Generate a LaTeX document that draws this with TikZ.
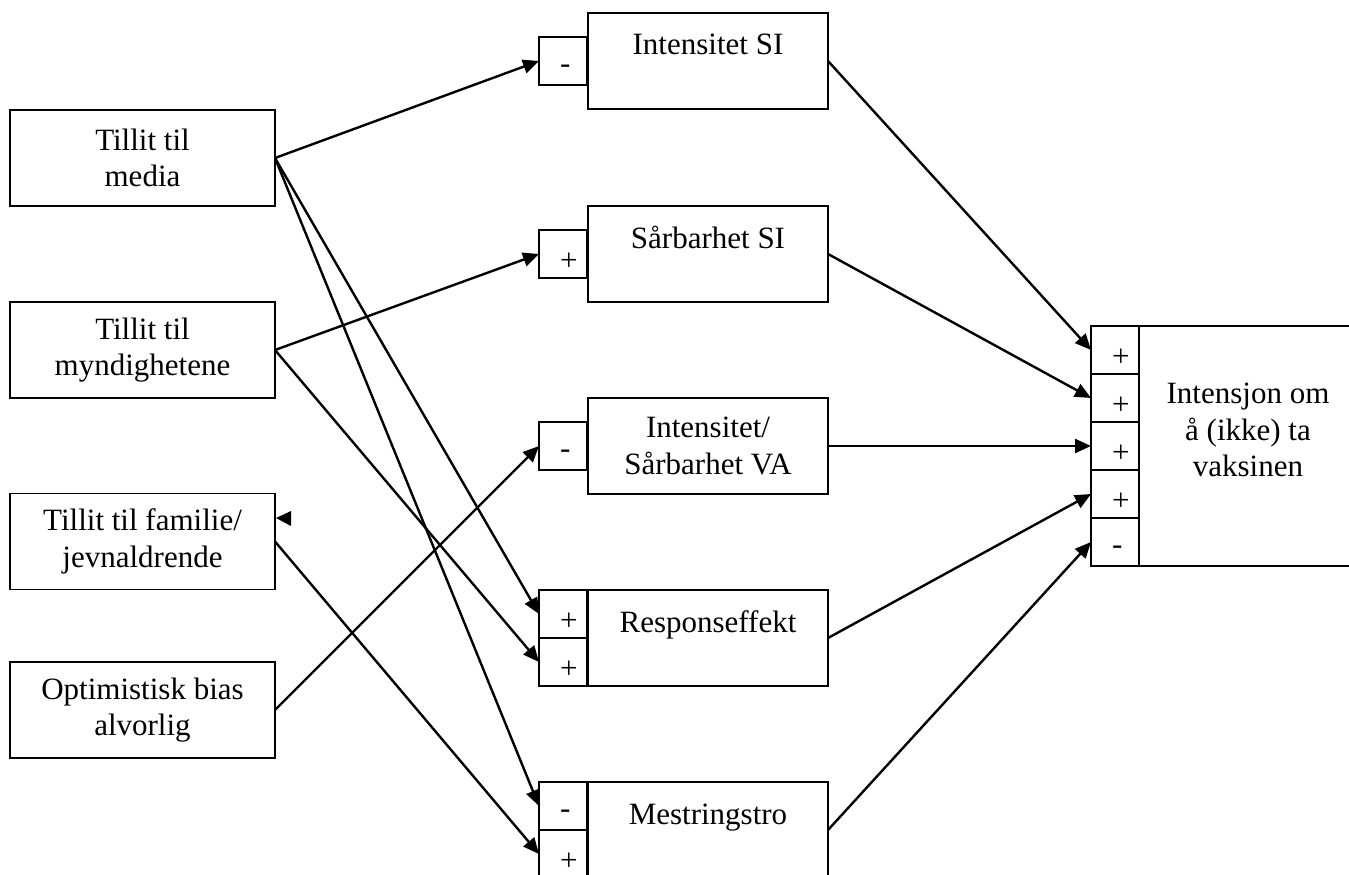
\documentclass[tikz,border=0pt]{standalone}
\usepackage{fontspec}
\setmainfont{Liberation Serif}
\usetikzlibrary{arrows.meta}
\begin{document}
\begin{tikzpicture}[x=1pt,y=-1pt,
  box/.style={draw, line width=1.8pt, rectangle, inner sep=0pt, outer sep=0pt},
  lbox/.style={box, minimum width=265pt, minimum height=96pt, align=center, font=\fontsize{31}{36.5}\selectfont},
  mbox/.style={box, minimum width=240pt, minimum height=96pt},
  sbox/.style={box, minimum width=48pt, minimum height=48pt},
  txt/.style={inner sep=0pt, align=center, font=\fontsize{31}{36.5}\selectfont},
  sign/.style={inner sep=0pt, anchor=west, font=\fontsize{31}{36.5}\selectfont},
  arr/.style={line width=2.4pt, -{Triangle[length=16pt,width=14pt]}}
]
\useasboundingbox (0,0) rectangle (1349,875);
\fill[white] (0,0) rectangle (1349,875);

% left boxes
\node[lbox] (media) at (142.5,158) {Tillit til\\media};
\node[lbox] (mynd) at (142.5,350) {Tillit til\\myndighetene};
\node[lbox] (fam) at (142.5,541.5) {Tillit til familie/\\jevnaldrende};
\node[lbox] (opt) at (142.5,710) {Optimistisk bias\\alvorlig};

% middle boxes
\node[mbox] (isi) at (708,61) {};
\node[txt, anchor=base] (isiT) at ([yshift=-42pt]isi.north) {Intensitet SI};
\node[sbox] (isiS) at (563,61) {};
\node[sign] (isiP) at ([xshift=21pt,yshift=-8pt]isiS.west) {-};

\node[mbox] (ssi) at (708,254) {};
\node[txt, anchor=base] (ssiT) at ([yshift=-42pt]ssi.north) {Sårbarhet SI};
\node[sbox] (ssiS) at (563,254) {};
\node[sign] (ssiP) at ([xshift=21pt,yshift=-8pt]ssiS.west) {+};

\node[mbox] (va) at (708,446) {};
\node[txt] (vaT) at (va.center) {Intensitet/\\Sårbarhet VA};
\node[sbox] (vaS) at (563,446) {};
\node[sign] (vaP) at ([xshift=21pt,yshift=-8pt]vaS.west) {-};

\node[mbox] (resp) at (708,638) {};
\node[txt, anchor=base] (respT) at ([yshift=-42pt]resp.north) {Responseffekt};
\node[sbox] (resp1) at (563,614) {};
\node[sign] (resp1P) at ([xshift=21pt,yshift=-8pt]resp1.west) {+};
\node[sbox] (resp2) at (563,662) {};
\node[sign] (resp2P) at ([xshift=21pt,yshift=-8pt]resp2.west) {+};

\node[mbox] (mest) at (708,830) {};
\node[txt, anchor=base] (mestT) at ([yshift=-42pt]mest.north) {Mestringstro};
\node[sbox] (mest1) at (563,806) {};
\node[sign] (mest1P) at ([xshift=21pt,yshift=-8pt]mest1.west) {-};
\node[sbox] (mest2) at (563,854) {};
\node[sign] (mest2P) at ([xshift=21pt,yshift=-8pt]mest2.west) {+};

% right box
\node[box, minimum width=226pt, minimum height=240pt] (int) at (1252,446) {};
\node[txt] (intT) at (1248,430) {Intensjon om\\å (ikke) ta\\vaksinen};
\node[sbox] (int1) at (1115,350) {};
\node[sign] (int1P) at ([xshift=21pt,yshift=-8pt]int1.west) {+};
\node[sbox] (int2) at (1115,398) {};
\node[sign] (int2P) at ([xshift=21pt,yshift=-8pt]int2.west) {+};
\node[sbox] (int3) at (1115,446) {};
\node[sign] (int3P) at ([xshift=21pt,yshift=-8pt]int3.west) {+};
\node[sbox] (int4) at (1115,494) {};
\node[sign] (int4P) at ([xshift=21pt,yshift=-8pt]int4.west) {+};
\node[sbox] (int5) at (1115,542) {};
\node[sign] (int5P) at ([xshift=21pt,yshift=-8pt]int5.west) {-};

% connectors
\draw[arr] (media.east) -- (isiS.west);
\draw[arr] (mynd.east) -- (ssiS.west);
\draw[arr] (media.east) -- (resp1.west);
\draw[arr] (media.east) -- (mest1.west);
\draw[arr] (mynd.east) -- (resp2.west);
\draw[arr] (fam.east) -- (mest2.west);
\draw[arr] (opt.east) -- (vaS.west);
\draw[arr] (isi.east) -- (int1.west);
\draw[arr] (ssi.east) -- (int2.west);
\draw[arr] (va.east) -- (int3.west);
\draw[arr] (resp.east) -- (int4.west);
\draw[arr] (mest.east) -- (int5.west);

% stray arrow head beside the family box
\fill (276,518) -- (291,511) -- (291,526) -- cycle;
\end{tikzpicture}
\end{document}
